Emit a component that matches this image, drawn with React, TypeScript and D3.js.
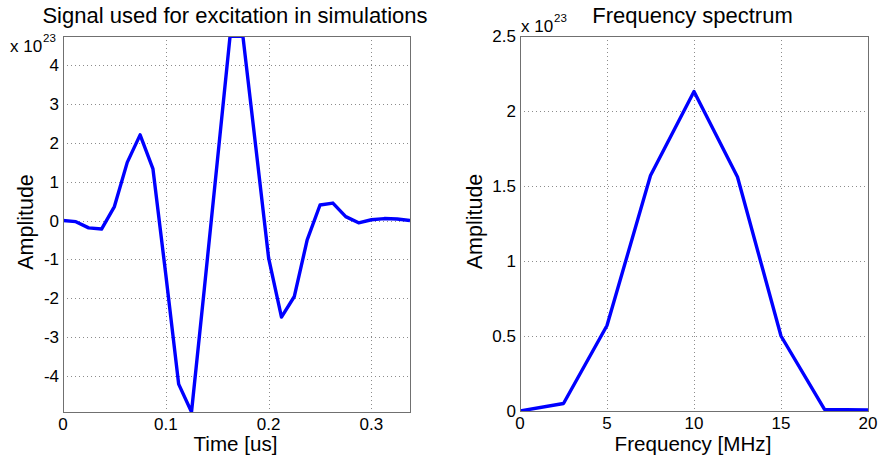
import React from "react";
import * as d3 from "d3";

const timeUs = [0, 0.0125, 0.025, 0.0375, 0.05, 0.0625, 0.075, 0.0875, 0.1, 0.1125, 0.125, 0.1375, 0.15, 0.1625, 0.175, 0.1875, 0.2, 0.2125, 0.225, 0.2375, 0.25, 0.2625, 0.275, 0.2875, 0.3, 0.3125, 0.325, 0.3375];
const signalAmp = [0.0, -0.03, -0.19, -0.22, 0.36, 1.5, 2.21, 1.33, -1.4, -4.22, -4.94, -1.75, 1.5, 4.76, 4.75, 1.9, -0.97, -2.49, -1.96, -0.5, 0.4, 0.45, 0.1, -0.06, 0.02, 0.05, 0.04, 0.0];
const timeTicks = [0, 0.1, 0.2, 0.3];
const timeTickLabels = ["0", "0.1", "0.2", "0.3"];
const signalTicks = [-4, -3, -2, -1, 0, 1, 2, 3, 4];
const signalTickLabels = ["-4", "-3", "-2", "-1", "0", "1", "2", "3", "4"];

const freqMHz = [0, 2.5, 5, 7.5, 10, 12.5, 15, 17.5, 20];
const spectrumAmp = [0.0, 0.05, 0.57, 1.57, 2.13, 1.56, 0.5, 0.011, 0.007];
const freqTicks = [0, 5, 10, 15, 20];
const freqTickLabels = ["0", "5", "10", "15", "20"];
const specTicks = [0, 0.5, 1, 1.5, 2, 2.5];
const specTickLabels = ["0", "0.5", "1", "1.5", "2", "2.5"];

const FONT = "'Liberation Sans', Arial, Helvetica, sans-serif";

type PanelProps = {
  id: string;
  left: number; right: number; top: number; bottom: number;
  xDomain: [number, number]; yDomain: [number, number];
  xs: number[]; ys: number[];
  xTicks: number[]; xTickLabels: string[];
  yTicks: number[]; yTickLabels: string[];
  title: string; xLabel: string; yLabel: string; yLabelX: number;
  expX: number; expY: number;
};

function Panel(p: PanelProps) {
  const x = d3.scaleLinear().domain(p.xDomain).range([p.left, p.right]);
  const y = d3.scaleLinear().domain(p.yDomain).range([p.bottom, p.top]);
  const line = d3.line<number>().x((_, i) => x(p.xs[i])).y((d) => y(d));
  const cx = (p.left + p.right) / 2;
  const cy = (p.top + p.bottom) / 2;
  return (
    <g>
      <defs>
        <clipPath id={p.id}>
          <rect x={p.left} y={p.top} width={p.right - p.left} height={p.bottom - p.top} />
        </clipPath>
      </defs>
      <rect x={p.left} y={p.top} width={p.right - p.left} height={p.bottom - p.top} fill="#fff" />
      {p.xTicks.map((t, i) => (
        <line key={"gx" + i} x1={Math.round(x(t)) + 0.5} x2={Math.round(x(t)) + 0.5} y1={p.top} y2={p.bottom}
          stroke="#8c8c8c" strokeWidth={1} strokeDasharray="1,3" />
      ))}
      {p.yTicks.map((t, i) => (
        <line key={"gy" + i} y1={Math.round(y(t)) + 0.5} y2={Math.round(y(t)) + 0.5} x1={p.left} x2={p.right}
          stroke="#8c8c8c" strokeWidth={1} strokeDasharray="1,3" />
      ))}
      <path d={line(p.ys) || ""} fill="none" stroke="#0000ff" strokeWidth={3.4} strokeLinejoin="round" clipPath={`url(#${p.id})`} />
      <rect x={p.left + 0.5} y={p.top + 0.5} width={p.right - p.left} height={p.bottom - p.top} fill="none" stroke="#707070" strokeWidth={1} />
      {p.xTicks.map((t, i) => (
        <text key={"tx" + i} x={x(t)} y={p.bottom + 18} textAnchor="middle" fontSize={17} fontFamily={FONT} fill="#000">{p.xTickLabels[i]}</text>
      ))}
      {p.yTicks.map((t, i) => (
        <text key={"ty" + i} x={p.left - 4} y={y(t) + 6} textAnchor="end" fontSize={17} fontFamily={FONT} fill="#000">{p.yTickLabels[i]}</text>
      ))}
      <text x={p.expX} y={p.expY} fontSize={17} fontFamily={FONT} fill="#000">x 10</text>
      <text x={p.expX + 33} y={p.expY - 10} fontSize={11.5} fontFamily={FONT} fill="#000">23</text>
      <text x={cx - 1.5} y={23} textAnchor="middle" fontSize={22} fontFamily={FONT} fill="#000">{p.title}</text>
      <text x={cx - 1} y={451} textAnchor="middle" fontSize={20.6} fontFamily={FONT} fill="#000">{p.xLabel}</text>
      <text transform={`translate(${p.yLabelX},${cy - 2}) rotate(-90)`} textAnchor="middle" fontSize={21.5} fontFamily={FONT} fill="#000">{p.yLabel}</text>
    </g>
  );
}

export default function App() {
  return (
    <svg width={880} height={458} style={{ position: "absolute", left: 0, top: 0, background: "#fff" }}>
      <rect x={0} y={0} width={880} height={458} fill="#fff" />
      <Panel id="c1" left={63} right={410} top={36} bottom={412}
        xDomain={[0, 0.3375]} yDomain={[-4.94, 4.76]}
        xs={timeUs} ys={signalAmp}
        xTicks={timeTicks} xTickLabels={timeTickLabels}
        yTicks={signalTicks} yTickLabels={signalTickLabels}
        title="Signal used for excitation in simulations" xLabel="Time [us]" yLabel="Amplitude" yLabelX={33}
        expX={10} expY={52} />
      <Panel id="c2" left={520} right={868} top={36} bottom={411}
        xDomain={[0, 20]} yDomain={[0, 2.5]}
        xs={freqMHz} ys={spectrumAmp}
        xTicks={freqTicks} xTickLabels={freqTickLabels}
        yTicks={specTicks} yTickLabels={specTickLabels}
        title="Frequency spectrum" xLabel="Frequency [MHz]" yLabel="Amplitude" yLabelX={482}
        expX={521} expY={32} />
    </svg>
  );
}
